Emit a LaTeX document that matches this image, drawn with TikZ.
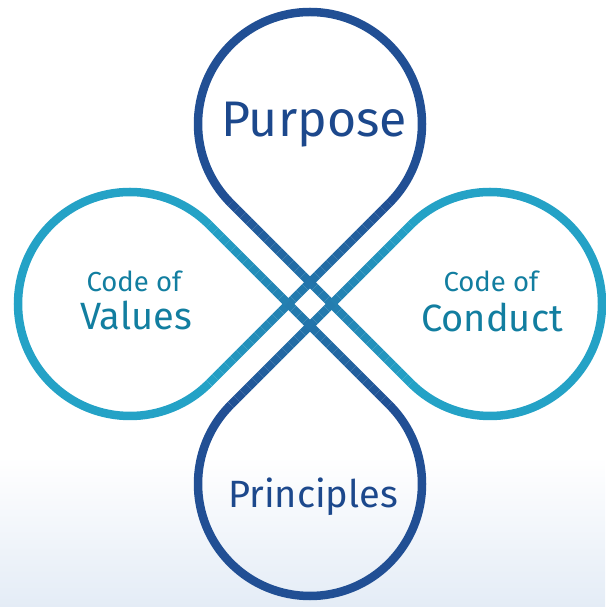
\documentclass[tikz,border=0pt]{standalone}
\usepackage{fontspec}
\setmainfont{Fira Sans}
\usepackage{xcolor}
\usetikzlibrary{calc}

\definecolor{darkloop}{RGB}{33,79,148}
\definecolor{tealloop}{RGB}{36,162,198}
\definecolor{darktext}{RGB}{28,72,140}
\definecolor{tealtext}{RGB}{18,126,160}
\definecolor{bgblue}{RGB}{228,236,246}

\tikzset{
	loop line/.style = {line width = 8.5pt},
	big label/.style = {anchor = base, font = \fontsize{50}{50}\selectfont},
	mid label/.style = {anchor = base, font = \fontsize{38}{38}\selectfont},
	small label/.style = {anchor = base, font = \fontsize{27.5}{27.5}\selectfont}
}

\begin{document}
\begin{tikzpicture}[x = 1pt, y = 1pt]
		%definition of origin
		\coordinate (O) at (310,303);
		
		%variables
		\def\R{112};
		\def\d{180};
		\def\n{30};
		
		%background
		\useasboundingbox (0,0) rectangle (605,607);
		\shade [top color = white, bottom color = bgblue] (0,0) rectangle (605,150);
		
		%loop centres
		\coordinate (top c) at ($ (O) + (90:\d) $);
		\coordinate (bottom c) at ($ (O) + (-90:\d) $);
		\coordinate (left c) at ($ (O) + (180:\d) $);
		\coordinate (right c) at ($ (O) + (0:\d) $);
		
		%tangent points
		\coordinate (top a) at ($ (top c) + (225:\R) $);
		\coordinate (top b) at ($ (top c) + (315:\R) $);
		\coordinate (right a) at ($ (right c) + (225:\R) $);
		\coordinate (right b) at ($ (right c) + (135:\R) $);
		\coordinate (bottom a) at ($ (bottom c) + (135:\R) $);
		\coordinate (bottom b) at ($ (bottom c) + (45:\R) $);
		\coordinate (left a) at ($ (left c) + (45:\R) $);
		\coordinate (left b) at ($ (left c) + (315:\R) $);
		
		%loops
		\draw [loop line, darkloop] (top b) arc [start angle = -45, end angle = 225, radius = \R];
		\draw [loop line, darkloop] (bottom a) arc [start angle = 135, end angle = 405, radius = \R];
		\draw [loop line, tealloop] (left a) arc [start angle = 45, end angle = 315, radius = \R];
		\draw [loop line, tealloop] (right a) arc [start angle = -135, end angle = 135, radius = \R];
		
		%crossing lines, dark to teal
		\foreach \from/\to in {top a/right a, top b/left b, bottom a/right b, bottom b/left a}
			\foreach \i in {1,...,\n} {
				\pgfmathtruncatemacro{\mix}{100 - 100*(\i - 0.5)/\n}
				\draw [loop line, darkloop!\mix!tealloop]
					($ (\from)!{(\i - 1)/\n}!(\to) $) -- ($ (\from)!{\i/\n}!(\to) $);
			}
		
		%labels
		\node [big label, darktext] (purpose) at ($ (top c) + (4,-13) $) {Purpose};
		\node [mid label, darktext] (principles) at ($ (bottom c) + (3,-24) $) {Principles};
		\node [small label, tealtext] (values top) at ($ (left c) + (4,12) $) {Code of};
		\node [mid label, tealtext] (values) at ($ (left c) + (6,-26) $) {Values};
		\node [small label, tealtext] (conduct top) at ($ (right c) + (1,12) $) {Code of};
		\node [mid label, tealtext] (conduct) at ($ (right c) + (2,-28) $) {Conduct};
	\end{tikzpicture}
\end{document}
